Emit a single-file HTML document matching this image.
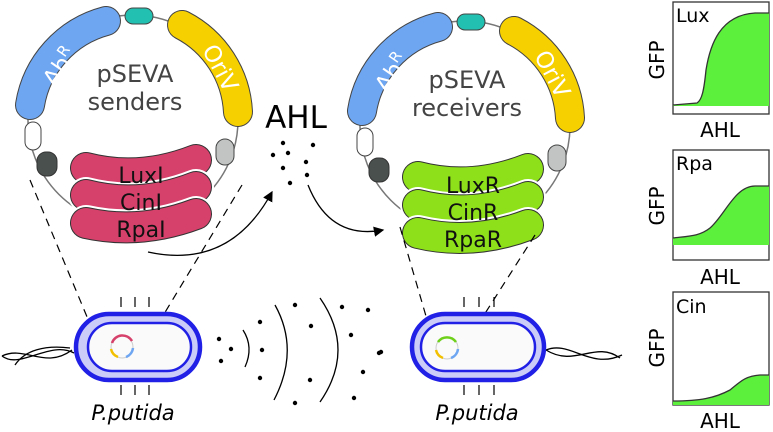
<!DOCTYPE html>
<html><head><style>body{margin:0;background:#fff}svg{display:block}text{font-family:"DejaVu Sans","Liberation Sans",sans-serif}</style></head><body>
<svg width="773" height="432" viewBox="0 0 773 432" xmlns="http://www.w3.org/2000/svg">
<defs><marker id="ah" markerWidth="8" markerHeight="8" refX="7" refY="4" orient="auto"><path d="M0,0 L8,4 L0,8 z" fill="#000"/></marker></defs>
<g id="plas1">
<circle cx="133" cy="120" r="105" fill="none" stroke="#777" stroke-width="1.5"/>
<path d="M30,105 A104,104 0 0 1 106,21" fill="none" stroke="#444" stroke-width="30" stroke-linecap="round"/>
<path d="M30,105 A104,104 0 0 1 106,21" fill="none" stroke="#6ea6f2" stroke-width="28" stroke-linecap="round"/>
<path d="M182,25 A104,104 0 0 1 238,112" fill="none" stroke="#444" stroke-width="30" stroke-linecap="round"/>
<path d="M182,25 A104,104 0 0 1 238,112" fill="none" stroke="#f7d000" stroke-width="28" stroke-linecap="round"/>
<rect x="125" y="8" width="28" height="16" rx="8" fill="#22c0b0" stroke="#444"/>
<rect x="25" y="122" width="16" height="28" rx="8" fill="#fff" stroke="#444"/>
<rect x="37" y="152" width="20" height="24" rx="9" fill="#4a504e" stroke="#333"/>
<rect x="216" y="139" width="18" height="26" rx="9" fill="#c2c4c4" stroke="#444"/>
<text x="40" y="80" fill="#fff" font-size="23" transform="rotate(-55 55 70)">Ab<tspan font-size="15" dy="-9">R</tspan></text>
<text x="198" y="68" fill="#fff" font-size="23" transform="rotate(62 215 62)">OriV</text>
<text x="135" y="82" fill="#444" font-size="24" text-anchor="middle">pSEVA</text>
<text x="135" y="110" fill="#444" font-size="24" text-anchor="middle">senders</text>
</g>
<g stroke-linecap="round" fill="none">
<path d="M86,168 Q140,182 196,160" stroke="#333" stroke-width="32"/><path d="M86,168 Q140,182 196,160" stroke="#d6416b" stroke-width="30"/>
<path d="M86,195 Q140,209 196,187" stroke="#fff" stroke-width="36"/><path d="M86,195 Q140,209 196,187" stroke="#333" stroke-width="32"/><path d="M86,195 Q140,209 196,187" stroke="#d6416b" stroke-width="30"/>
<path d="M86,223 Q140,235 196,214" stroke="#fff" stroke-width="36"/><path d="M86,223 Q140,235 196,214" stroke="#333" stroke-width="32"/><path d="M86,223 Q140,235 196,214" stroke="#d6416b" stroke-width="30"/>
</g>
<g font-size="22" text-anchor="middle" fill="#111"><text x="141" y="183">LuxI</text><text x="141" y="210">CinI</text><text x="141" y="237">RpaI</text></g>

<g transform="translate(332,6)">
<circle cx="133" cy="120" r="105" fill="none" stroke="#777" stroke-width="1.5"/>
<path d="M30,105 A104,104 0 0 1 106,21" fill="none" stroke="#444" stroke-width="30" stroke-linecap="round"/>
<path d="M30,105 A104,104 0 0 1 106,21" fill="none" stroke="#6ea6f2" stroke-width="28" stroke-linecap="round"/>
<path d="M182,25 A104,104 0 0 1 238,112" fill="none" stroke="#444" stroke-width="30" stroke-linecap="round"/>
<path d="M182,25 A104,104 0 0 1 238,112" fill="none" stroke="#f7d000" stroke-width="28" stroke-linecap="round"/>
<rect x="125" y="8" width="28" height="16" rx="8" fill="#22c0b0" stroke="#444"/>
<rect x="25" y="122" width="16" height="28" rx="8" fill="#fff" stroke="#444"/>
<rect x="37" y="152" width="20" height="24" rx="9" fill="#4a504e" stroke="#333"/>
<rect x="216" y="139" width="18" height="26" rx="9" fill="#c2c4c4" stroke="#444"/>
<text x="40" y="80" fill="#fff" font-size="23" transform="rotate(-55 55 70)">Ab<tspan font-size="15" dy="-9">R</tspan></text>
<text x="198" y="68" fill="#fff" font-size="23" transform="rotate(62 215 62)">OriV</text>
<text x="135" y="82" fill="#444" font-size="24" text-anchor="middle">pSEVA</text>
<text x="135" y="110" fill="#444" font-size="24" text-anchor="middle">receivers</text>
<g stroke-linecap="round" fill="none">
<path d="M86,171 Q140,185 196,163" stroke="#333" stroke-width="32"/><path d="M86,171 Q140,185 196,163" stroke="#8ee01a" stroke-width="30"/>
<path d="M86,199 Q140,213 196,191" stroke="#fff" stroke-width="36"/><path d="M86,199 Q140,213 196,191" stroke="#333" stroke-width="32"/><path d="M86,199 Q140,213 196,191" stroke="#8ee01a" stroke-width="30"/>
<path d="M86,227 Q140,240 196,219" stroke="#fff" stroke-width="36"/><path d="M86,227 Q140,240 196,219" stroke="#333" stroke-width="32"/><path d="M86,227 Q140,240 196,219" stroke="#8ee01a" stroke-width="30"/>
</g>
<g font-size="22" text-anchor="middle" fill="#111"><text x="141" y="187">LuxR</text><text x="141" y="214">CinR</text><text x="141" y="241">RpaR</text></g>
</g>

<text x="296" y="128" font-size="31" text-anchor="middle" fill="#000">AHL</text>
<g fill="#000"><circle cx="283" cy="143" r="2.2"/><circle cx="313" cy="145" r="2.2"/><circle cx="273" cy="155" r="2.2"/><circle cx="288" cy="153" r="2.2"/><circle cx="306" cy="162" r="2.2"/><circle cx="283" cy="168" r="2.2"/><circle cx="307" cy="175" r="2.2"/><circle cx="290" cy="183" r="2.2"/></g>
<path d="M148,252 Q230,270 272,192" fill="none" stroke="#000" stroke-width="1.3" marker-end="url(#ah)"/>
<path d="M308,185 Q330,240 383,230" fill="none" stroke="#000" stroke-width="1.3" marker-end="url(#ah)"/>

<g stroke="#000" stroke-width="1.2" stroke-dasharray="8,6" fill="none">
<line x1="30" y1="180" x2="100" y2="348"/><line x1="242" y1="185" x2="141" y2="352"/>
<line x1="400" y1="227" x2="435" y2="347"/><line x1="535" y1="235" x2="463" y2="348"/>
</g>

<g fill="none" stroke="#000" stroke-width="1.3">
<path d="M2,356 C25,345 45,370 72,350"/><path d="M2,356 C20,370 50,340 74,353"/><path d="M15,365 C25,350 45,345 70,348"/>
<path d="M546,350 C570,340 590,370 622,355"/><path d="M546,350 C575,368 595,340 620,358"/>
<path d="M243,330 Q254,347 245,367"/><path d="M275,305 Q300,350 274,400"/><path d="M320,298 Q356,350 320,402"/>
</g>
<g stroke="#000" stroke-width="1.2"><line x1="121" y1="297" x2="121" y2="307"/><line x1="135" y1="297" x2="135" y2="307"/><line x1="149" y1="297" x2="149" y2="307"/><line x1="121" y1="385" x2="121" y2="395"/><line x1="135" y1="385" x2="135" y2="395"/><line x1="149" y1="385" x2="149" y2="395"/>
<line x1="464" y1="297" x2="464" y2="307"/><line x1="479" y1="297" x2="479" y2="307"/><line x1="494" y1="297" x2="494" y2="307"/><line x1="464" y1="385" x2="464" y2="395"/><line x1="479" y1="385" x2="479" y2="395"/><line x1="494" y1="385" x2="494" y2="395"/></g>
<rect x="76" y="314" width="124" height="66" rx="33" fill="#ccccf8" stroke="#2020e6" stroke-width="4.5"/>
<rect x="88" y="323" width="103" height="48" rx="24" fill="#fafafa" stroke="#2020e6" stroke-width="2.5"/>
<rect x="412" y="314" width="132" height="66" rx="33" fill="#ccccf8" stroke="#2020e6" stroke-width="4.5"/>
<rect x="421" y="323" width="114" height="48" rx="24" fill="#fafafa" stroke="#2020e6" stroke-width="2.5"/>
<g fill="none" stroke-width="2.5">
<circle cx="122" cy="347" r="11" stroke="#ccc" stroke-width="1"/>
<path d="M112,343 A11,11 0 0 1 132,341" stroke="#d6416b"/><path d="M111,349 A11,11 0 0 0 118,357" stroke="#f2c000"/><path d="M126,357 A11,11 0 0 0 133,348" stroke="#6ea6f2"/>
<circle cx="447" cy="348" r="11" stroke="#ccc" stroke-width="1"/>
<path d="M438,342 A11,11 0 0 1 456,342" stroke="#6ed01a"/><path d="M436,350 A11,11 0 0 0 443,358" stroke="#f2c000"/><path d="M451,358 A11,11 0 0 0 458,349" stroke="#6ea6f2"/>
</g>
<g fill="#000"><circle cx="219" cy="339" r="2.2"/><circle cx="231" cy="349" r="2.2"/><circle cx="221" cy="361" r="2.2"/><circle cx="260" cy="322" r="2.2"/><circle cx="262" cy="350" r="2.2"/><circle cx="260" cy="378" r="2.2"/><circle cx="295" cy="305" r="2.2"/><circle cx="311" cy="326" r="2.2"/><circle cx="310" cy="380" r="2.2"/><circle cx="295" cy="403" r="2.2"/><circle cx="342" cy="307" r="2.2"/><circle cx="368" cy="310" r="2.2"/><circle cx="351" cy="335" r="2.2"/><circle cx="379" cy="353" r="2.2"/><circle cx="363" cy="372" r="2.2"/><circle cx="354" cy="398" r="2.2"/><circle cx="381" cy="352" r="2.2"/></g>
<text x="133" y="420" font-size="21" font-style="italic" text-anchor="middle">P.putida</text>
<text x="477" y="420" font-size="21" font-style="italic" text-anchor="middle">P.putida</text>

<g stroke="#333" stroke-width="1.3">
<rect x="673" y="2" width="96" height="112" fill="#fff"/>
<path d="M673,105 L697,103 C702,100 704,90 706,70 C710,45 720,15 755,13 L769,13 L769,106 L673,106 z" fill="#5cf03c" stroke="none"/>
<path d="M673,105 L697,103 C702,100 704,90 706,70 C710,45 720,15 755,13 L769,13" fill="none"/>
<rect x="673" y="150" width="96" height="110" fill="#fff"/>
<path d="M673,238 C690,236 700,236 710,228 C725,215 735,186 755,186 L769,186 L769,245 L673,245 z" fill="#5cf03c" stroke="none"/>
<path d="M673,238 C690,236 700,236 710,228 C725,215 735,186 755,186 L769,186" fill="none"/>
<rect x="673" y="292" width="96" height="113" fill="#fff"/>
<path d="M673,401 C700,401 715,398 730,390 C740,382 745,376 760,375 L769,375 L769,405 L673,405 z" fill="#5cf03c" stroke="none"/>
<path d="M673,401 C700,401 715,398 730,390 C740,382 745,376 760,375 L769,375" fill="none"/>
</g>
<g font-size="19" fill="#000">
<text x="676" y="22">Lux</text><text x="676" y="170">Rpa</text><text x="676" y="313">Cin</text>
<text x="720" y="137" text-anchor="middle" font-size="20">AHL</text><text x="720" y="284" text-anchor="middle" font-size="20">AHL</text><text x="720" y="428" text-anchor="middle" font-size="20">AHL</text>
<text transform="translate(664,60) rotate(-90)" text-anchor="middle" font-size="20">GFP</text>
<text transform="translate(664,206) rotate(-90)" text-anchor="middle" font-size="20">GFP</text>
<text transform="translate(664,348) rotate(-90)" text-anchor="middle" font-size="20">GFP</text>
</g>
</svg>
</body></html>
